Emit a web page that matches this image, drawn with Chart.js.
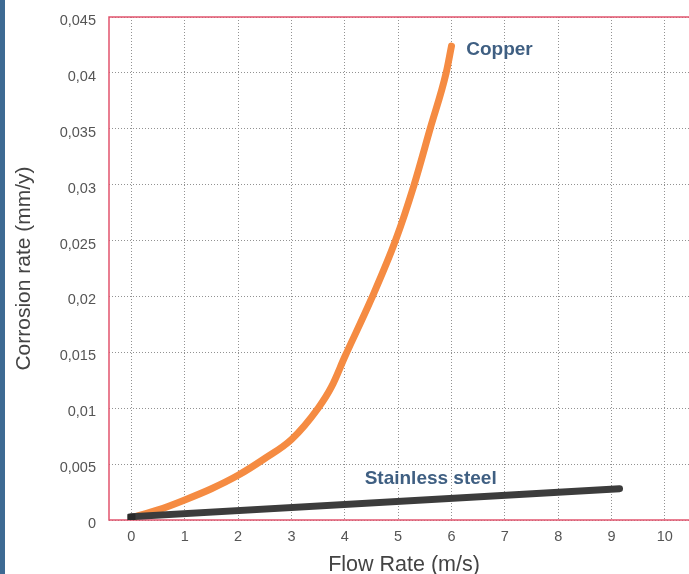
<!DOCTYPE html>
<html>
<head>
<meta charset="utf-8">
<script src="https://cdn.jsdelivr.net/npm/chart.js@4"></script>
<style>
  html, body { margin: 0; padding: 0; background: #fff; overflow: hidden; }
  #wrap { position: relative; width: 705px; height: 574px; }
</style>
</head>
<body>
<div id="wrap"><canvas id="chart" width="705" height="574"></canvas></div>
<script>
// Flow rate (m/s) ticks and corrosion rate (mm/y) ticks
const xTicks = [0, 1, 2, 3, 4, 5, 6, 7, 8, 9, 10];
const yTicks = [0, 0.005, 0.01, 0.015, 0.02, 0.025, 0.03, 0.035, 0.04, 0.045];

// Copper curve
const copperFlow = [0, 0.5, 1, 1.5, 2, 2.5, 3, 3.5, 3.75, 4, 4.5, 4.95, 5.3, 5.6, 5.9, 6];
const copperRate = [0.0002, 0.0009, 0.0018, 0.0028, 0.004, 0.0055, 0.0072, 0.01, 0.0119, 0.0146, 0.0198, 0.025, 0.03, 0.035, 0.04, 0.0424];

// Stainless steel line
const steelFlow = [0, 9.15];
const steelRate = [0.0003, 0.0028];

// Series labels drawn next to the curves
const seriesLabels = [
  { text: "Copper", x: 6.9, y: 0.0421 },
  { text: "Stainless steel", x: 5.61, y: 0.0037 }
];

const toPoints = (xs, ys) => xs.map((x, i) => ({ x: x, y: ys[i] }));

// Blue strip on the left edge, pink frame round the plot, curve labels
const framePlugin = {
  id: "frame",
  beforeDraw(chart) {
    const ctx = chart.ctx;
    ctx.save();
    ctx.fillStyle = "#3d6a93";
    ctx.fillRect(0, 0, 5, chart.height);
    ctx.restore();
  },
  beforeDatasetsDraw(chart) {
    const { ctx, chartArea: a } = chart;
    ctx.save();
    ctx.strokeStyle = "#e2546e";
    ctx.lineWidth = 1.5;
    ctx.strokeRect(a.left, a.top, a.right - a.left, a.bottom - a.top);
    ctx.restore();
  },
  afterDraw(chart) {
    const ctx = chart.ctx;
    const xs = chart.scales.x, ys = chart.scales.y;
    ctx.save();
    ctx.font = "bold 19px 'Liberation Sans', Arial, sans-serif";
    ctx.textAlign = "center";
    ctx.textBaseline = "middle";
    ctx.lineJoin = "round";
    seriesLabels.forEach((l) => {
      const px = xs.getPixelForValue(l.x);
      const py = ys.getPixelForValue(l.y);
      ctx.strokeStyle = "#ffffff";
      ctx.lineWidth = 4;
      ctx.strokeText(l.text, px, py);
      ctx.fillStyle = "#3f5f82";
      ctx.fillText(l.text, px, py);
    });
    ctx.restore();
  }
};

const fontFamily = "'Liberation Sans', Arial, sans-serif";

new Chart(document.getElementById("chart").getContext("2d"), {
  type: "line",
  data: {
    datasets: [
      {
        label: "Stainless steel",
        data: toPoints(steelFlow, steelRate),
        borderColor: "#3c3c3c",
        borderWidth: 7,
        pointRadius: 0,
        borderCapStyle: "round",
        fill: false,
        order: 2
      },
      {
        label: "Copper",
        data: toPoints(copperFlow, copperRate),
        borderColor: "#f58b42",
        borderWidth: 7,
        pointRadius: 0,
        cubicInterpolationMode: "monotone",
        borderCapStyle: "round",
        fill: false,
        order: 3
      },
      {
        label: "origin",
        data: [{ x: 0, y: 0.0002 }],
        showLine: false,
        pointStyle: "rect",
        pointRadius: 5,
        backgroundColor: "#2a2a2a",
        borderColor: "#2a2a2a",
        order: 1
      }
    ]
  },
  options: {
    responsive: false,
    animation: false,
    devicePixelRatio: 1,
    layout: { padding: { left: 8, top: 17, right: 0, bottom: 0 } },
    plugins: {
      legend: { display: false },
      tooltip: { enabled: false }
    },
    scales: {
      x: {
        type: "linear",
        min: -0.42,
        max: 10.64,
        afterBuildTicks: (s) => { s.ticks = xTicks.map((v) => ({ value: v })); },
        afterFit: (s) => { s.height = 54; s.paddingLeft = 0; s.paddingRight = 0; },
        grid: { color: "#929292", lineWidth: 1, drawTicks: false },
        border: { display: false, dash: [1, 2] },
        ticks: {
          padding: 8,
          color: "#555",
          font: { family: fontFamily, size: 14.5 },
          maxRotation: 0
        },
        title: {
          display: true,
          text: "Flow Rate (m/s)",
          color: "#444",
          padding: { top: 4, bottom: 0 },
          font: { family: fontFamily, size: 21.5, lineHeight: 0.8 }
        }
      },
      y: {
        type: "linear",
        min: 0,
        max: 0.045,
        afterBuildTicks: (s) => { s.ticks = yTicks.map((v) => ({ value: v })); },
        afterFit: (s) => { s.width = 101; s.paddingTop = 0; s.paddingBottom = 0; },
        grid: { color: "#929292", lineWidth: 1, drawTicks: false },
        border: { display: false, dash: [1, 2] },
        ticks: {
          padding: 13,
          labelOffset: 4,
          color: "#555",
          font: { family: fontFamily, size: 14.5 },
          callback: (v) => String(Math.round(v * 1000) / 1000).replace(".", ",")
        },
        title: {
          display: true,
          text: "Corrosion rate (mm/y)",
          color: "#444",
          padding: { top: 4, bottom: 0 },
          font: { family: fontFamily, size: 21 }
        }
      }
    }
  },
  plugins: [framePlugin]
});
</script>
</body>
</html>
